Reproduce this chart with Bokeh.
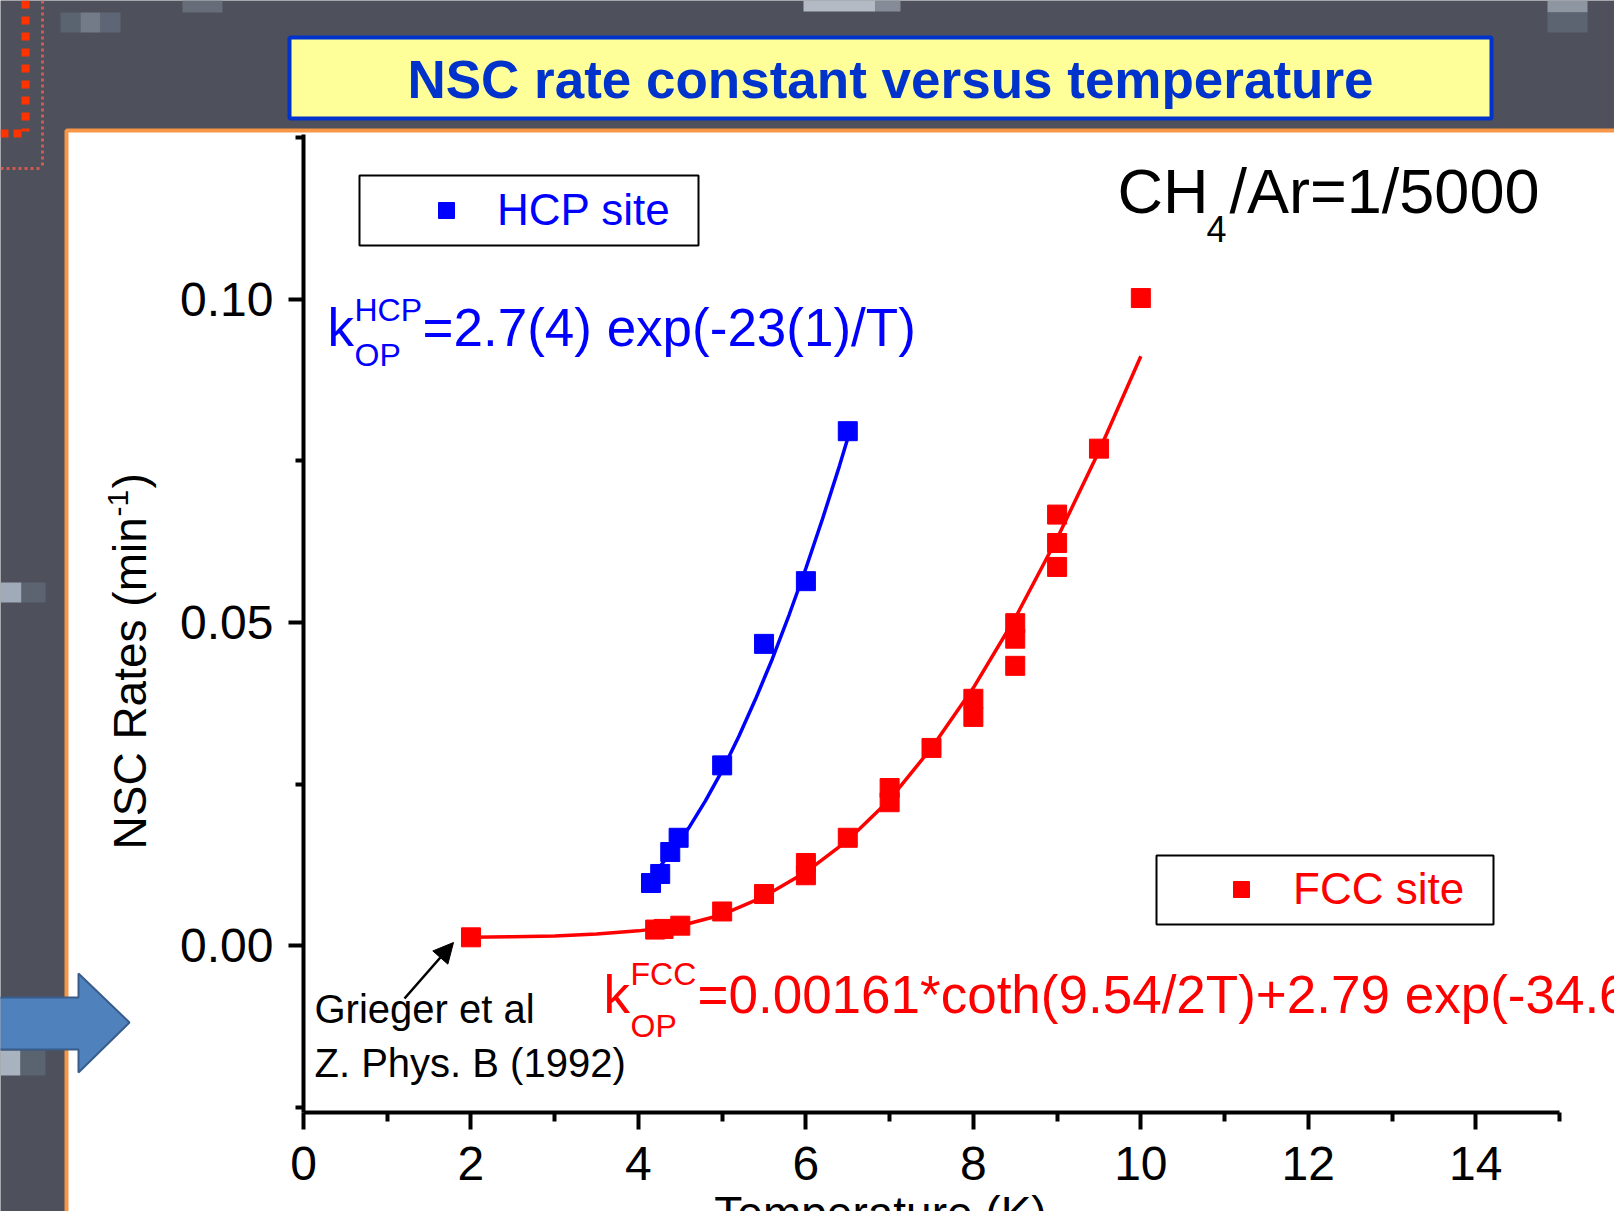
import math
from bokeh.plotting import figure
from bokeh.models import (Label, BoxAnnotation, PolyAnnotation, Arrow, NormalHead,
                          Legend, LegendItem, FixedTicker, PrintfTickFormatter)
from bokeh.embed import file_html
from bokeh.resources import INLINE

# ---------------- data ----------------
hcp_T = [4.15, 4.26, 4.38, 4.48, 5.0, 5.5, 6.0, 6.5]
hcp_k = [0.0097, 0.0111, 0.0145, 0.0167, 0.0279, 0.0467, 0.0564, 0.0796]

fcc_T = [2.0, 4.2, 4.3, 4.5, 5.0, 5.5, 6.0, 6.0, 6.5, 7.0, 7.0, 7.5,
         8.0, 8.0, 8.5, 8.5, 8.5, 9.0, 9.0, 9.0, 9.5, 10.0]
fcc_k = [0.0013, 0.0025, 0.0026, 0.0031, 0.0053, 0.0080, 0.0109, 0.0128,
         0.0167, 0.0222, 0.0244, 0.0306, 0.0354, 0.0382, 0.0433, 0.0475,
         0.0499, 0.0586, 0.0623, 0.0667, 0.0769, 0.1002]

hcp_fit_T = [4.15, 4.4, 4.6, 4.8, 5.0, 5.2, 5.4, 5.6, 5.8, 6.0, 6.2, 6.4, 6.5]
hcp_fit_k = [0.0106, 0.0145, 0.0182, 0.0224, 0.0271, 0.0324, 0.0382,
             0.0444, 0.0512, 0.0584, 0.0661, 0.0742, 0.0785]

fcc_fit_T = [2.0, 2.5, 3.0, 3.5, 4.0, 4.5, 5.0, 5.5, 6.0, 6.5, 7.0, 7.5,
             8.0, 8.5, 9.0, 9.5, 10.0]
fcc_fit_k = [0.0013, 0.0014, 0.0015, 0.0018, 0.0023, 0.0031, 0.0048, 0.0076,
             0.0114, 0.0163, 0.0226, 0.0306, 0.0399, 0.0507, 0.0630, 0.0765, 0.0912]

x_major = [0, 2, 4, 6, 8, 10, 12, 14]
x_minor = [1, 3, 5, 7, 9, 11, 13, 15]
y_major = [0.0, 0.05, 0.10]
y_minor = [-0.025, 0.025, 0.075, 0.125]

title_text = "NSC rate constant versus temperature"
hcp_label = "HCP site"
fcc_label = "FCC site"
hcp_formula = "=2.7(4) exp(-23(1)/T)"
fcc_formula = "=0.00161*coth(9.54/2T)+2.79 exp(-34.6/T)"

# ---------------- layout ----------------
W, H = 1614, 1211
FL, FR, FT, FB = 303, 1559, 134, 1112      # axis box on the canvas
X0, X1 = 0.0, 15.0
Y0, Y1 = -0.0258, 0.1255
PXU = (FR - FL) / (X1 - X0)
PYU = (FB - FT) / (Y1 - Y0)

BLUE = "#0000ff"
RED = "#ff0000"
FONT = "Liberation Sans"
BASE = 0.375   # empirical alphabetic-baseline correction (fraction of font size)


def dx(sx):
    return X0 + (sx - FL) / PXU


def dy(sy):
    return Y1 - (sy - FT) / PYU


p = figure(width=W, height=H, x_range=(dx(0), dx(W)), y_range=(dy(H), dy(0)),
           output_backend="svg", toolbar_location=None, title=None,
           min_border_left=0, min_border_right=0, min_border_top=0, min_border_bottom=0)
p.border_fill_color = "#4e505b"
p.background_fill_color = "#4e505b"
p.outline_line_color = None
p.xgrid.visible = False
p.ygrid.visible = False

# background texture blocks of the slide
for (l, t, r, b, c) in [
        (60, 12, 80, 32, "#5a6470"), (80, 12, 100, 32, "#737a88"),
        (100, 12, 120, 32, "#5e6675"), (182, 0, 222, 12, "#666c78"),
        (803, 0, 875, 11, "#b4bac4"), (875, 0, 900, 11, "#858c98"),
        (1547, 0, 1587, 12, "#8e96a2"), (1547, 12, 1587, 32, "#5c6472"),
        (0, 582, 21, 602, "#a0aab8"), (21, 582, 45, 602, "#5c6472"),
        (0, 1050, 20, 1075, "#a9b3bf"), (20, 1050, 45, 1075, "#5a6470")]:
    p.add_layout(BoxAnnotation(left=dx(l), right=dx(r), top=dy(t), bottom=dy(b),
                               fill_color=c, fill_alpha=1.0, line_alpha=0.0,
                               level="underlay"))

# slide panels
p.add_layout(BoxAnnotation(left=dx(66), right=dx(1700), top=dy(130), bottom=dy(1300),
                           fill_color="white", fill_alpha=1.0, line_color="#f79646",
                           line_alpha=1.0, line_width=4, level="underlay"))
p.add_layout(BoxAnnotation(left=dx(289), right=dx(1491), top=dy(37), bottom=dy(118),
                           fill_color="#ffff99", fill_alpha=1.0, line_color="#0033cc",
                           line_alpha=1.0, line_width=4, level="underlay"))

# axes drawn at fixed data locations
for ax in p.xaxis:
    ax.fixed_location = Y0
    ax.bounds = (X0, X1)
    ax.ticker = FixedTicker(ticks=x_major, minor_ticks=x_minor)
    ax.axis_line_width = 4
    ax.major_tick_line_width = 4
    ax.minor_tick_line_width = 4
    ax.major_tick_out = 17
    ax.major_tick_in = 0
    ax.minor_tick_out = 9
    ax.minor_tick_in = 0
    ax.major_label_text_font = FONT
    ax.major_label_text_font_size = "48px"
    ax.major_label_text_color = "black"
    ax.major_label_standoff = 17
for ax in p.yaxis:
    ax.fixed_location = X0
    ax.bounds = (Y0, Y1)
    ax.ticker = FixedTicker(ticks=y_major, minor_ticks=y_minor)
    ax.formatter = PrintfTickFormatter(format="%.2f")
    ax.axis_line_width = 4
    ax.major_tick_line_width = 4
    ax.minor_tick_line_width = 4
    ax.major_tick_out = 15
    ax.major_tick_in = 0
    ax.minor_tick_out = 8
    ax.minor_tick_in = 0
    ax.major_label_text_font = FONT
    ax.major_label_text_font_size = "48px"
    ax.major_label_text_color = "black"
    ax.major_label_standoff = 15

# fitted curves and data
p.line(hcp_fit_T, hcp_fit_k, line_color=BLUE, line_width=3.5)
p.line(fcc_fit_T, fcc_fit_k, line_color=RED, line_width=3.5)
r_hcp = p.scatter(hcp_T, hcp_k, marker="square", size=19, fill_color=BLUE, line_color=BLUE)
r_fcc = p.scatter(fcc_T, fcc_k, marker="square", size=19, fill_color=RED, line_color=RED)


# legends: framed box + legend item placed inside
def make_legend(label, rend, color, box, glyph_cx, text_x):
    l, t, r, b = box
    p.add_layout(BoxAnnotation(left=dx(l), right=dx(r), top=dy(t), bottom=dy(b),
                               fill_color="white", fill_alpha=1.0, line_color="black",
                               line_alpha=1.0, line_width=2, level="annotation"))
    gw = 40
    left = glyph_cx - gw / 2
    cy = (t + b) / 2
    p.add_layout(Legend(items=[LegendItem(label=label, renderers=[rend])],
                        location=(left, H - (cy + 24.5)),
                        label_text_font=FONT, label_text_font_size="44px",
                        label_text_color=color, border_line_alpha=0.0,
                        background_fill_alpha=0.0,
                        padding=0, margin=0, spacing=0, glyph_width=gw, glyph_height=44,
                        label_standoff=int(text_x - left - gw), label_height=44))

make_legend(hcp_label, r_hcp, BLUE, (359, 175, 698, 245), 446, 497)
make_legend(fcc_label, r_fcc, RED, (1156, 855, 1493, 924), 1241, 1293)


def lab(sx, sy, text, size, color="black", align="left", style="normal", angle=0.0, font=FONT):
    if angle == 0.0:
        sy = sy - BASE * size
    else:
        sx = sx - BASE * size
    p.add_layout(Label(x=dx(sx), y=dy(sy), text=text, text_font=font,
                       text_font_size=f"{size}px", text_color=color, text_align=align,
                       text_baseline="alphabetic", text_font_style=style, angle=angle))

# title
lab(890, 99, title_text, 53, "#0033cc", align="center", style="bold")

# CH4/Ar
lab(1117, 214, "CH", 63)
lab(1206, 242, "4", 36)
lab(1229, 214, "/Ar=1/5000", 63)

# HCP formula
lab(327, 347, "k", 53, BLUE)
lab(354, 321, "HCP", 32, BLUE)
lab(354, 366, "OP", 32, BLUE)
lab(422, 347, hcp_formula, 53, BLUE)

# FCC formula
lab(603, 1014, "k", 53, RED)
lab(630, 985, "FCC", 32, RED)
lab(630, 1037, "OP", 32, RED)
lab(697, 1014, fcc_formula, 53, RED)

# reference note
lab(314, 1023, "Grieger et al", 40)
lab(314, 1077, "Z. Phys. B (1992)", 40)
p.add_layout(Arrow(end=NormalHead(size=20, fill_color="black", line_color="black"),
                   x_start=dx(404), y_start=dy(998), x_end=dx(453), y_end=dy(942),
                   line_color="black", line_width=2.5))

# axis titles
lab(147, 849, "NSC Rates (min", 46, angle=math.pi / 2)
lab(129, 516, "-1", 30, angle=math.pi / 2)
lab(147, 488, ")", 46, angle=math.pi / 2)
lab(880, 1230, "Temperature (K)", 46, align="center")

# slide decorations
p.add_layout(PolyAnnotation(xs=[dx(v) for v in [-5, 78, 78, 129, 78, 78, -5]],
                            ys=[dy(v) for v in [997, 997, 973, 1022, 1072, 1049, 1049]],
                            fill_color="#4f81bd", fill_alpha=1.0, line_color="#385d8a",
                            line_alpha=1.0, line_width=2))
for (x1, y1, x2, y2, w, dash, col) in [
        (25, 0, 25, 131, 8, "8 8", "#ff3300"),
        (0, 133, 25, 133, 8, "8 5", "#ff3300"),
        (42, 0, 42, 168, 3, "3 3", "#d05a50"),
        (0, 168, 42, 168, 3, "3 3", "#d05a50")]:
    p.add_layout(Arrow(end=None, x_start=dx(x1), y_start=dy(y1), x_end=dx(x2), y_end=dy(y2),
                       line_color=col, line_width=w, line_dash=dash))

open("out.html", "w").write(file_html(p, INLINE))
